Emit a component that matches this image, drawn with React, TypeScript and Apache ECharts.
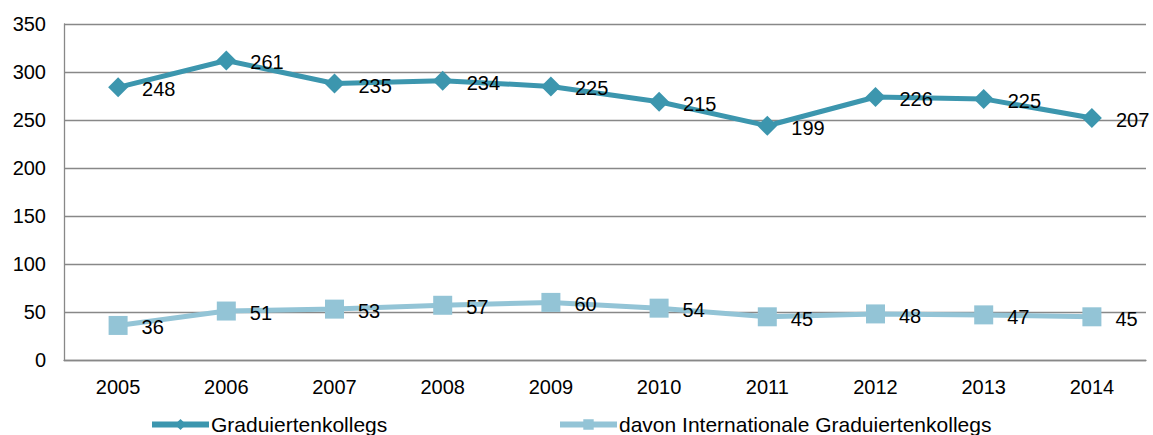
import React, { useEffect, useRef } from "react";
import * as echarts from "echarts";

const years = ["2005", "2006", "2007", "2008", "2009", "2010", "2011", "2012", "2013", "2014"];
const graduiertenkollegs = [248, 261, 235, 234, 225, 215, 199, 226, 225, 207];
const internationale = [36, 51, 53, 57, 60, 54, 45, 48, 47, 45];
const seriesNames = ["Graduiertenkollegs", "davon Internationale Graduiertenkollegs"];

const DARK = "#3C96AE";
const LIGHT = "#93C4D6";
const FONT = "'Liberation Sans', Arial, sans-serif";
const FS = 20;

export default function App() {
  const ref = useRef<HTMLDivElement>(null);
  useEffect(() => {
    if (!ref.current) return;
    const chart = echarts.init(ref.current, undefined, { renderer: "svg" });
    const labelCommon = {
      show: true,
      position: "right" as const,
      distance: 14,
      offset: [0, 2],
      color: "#000",
      fontSize: FS,
      fontFamily: FONT,
      formatter: "{c}",
    };
    const legendText = { fontSize: 21, fontFamily: FONT, color: "#000", padding: [0, 0, 0, -3] };
    chart.setOption({
      animation: false,
      backgroundColor: "#fff",
      grid: { left: 64, right: 7, top: 24, bottom: 75, containLabel: false },
      legend: [
        {
          data: [seriesNames[0]],
          left: 149,
          top: 414,
          padding: 0,
          itemWidth: 57,
          itemHeight: 14,
          lineStyle: { width: 6 },
          textStyle: legendText,
        },
        {
          data: [seriesNames[1]],
          left: 557,
          top: 414,
          padding: 0,
          itemWidth: 57,
          itemHeight: 13,
          lineStyle: { width: 6 },
          textStyle: legendText,
        },
      ],
      xAxis: {
        type: "category",
        data: years,
        boundaryGap: true,
        axisLine: { show: true, lineStyle: { color: "#888", width: 1.3 } },
        axisTick: { show: false },
        axisLabel: { color: "#000", fontSize: FS, fontFamily: FONT, margin: 17 },
      },
      yAxis: {
        type: "value",
        min: 0,
        max: 350,
        interval: 50,
        axisLine: { show: true, lineStyle: { color: "#888", width: 1.3 } },
        axisTick: { show: false },
        splitLine: { show: true, lineStyle: { color: "#888", width: 1.3 } },
        axisLabel: { color: "#000", fontSize: FS, fontFamily: FONT, margin: 18 },
      },
      series: [
        {
          name: seriesNames[1],
          type: "line",
          stack: "total",
          data: internationale,
          symbol: "rect",
          symbolSize: 19,
          lineStyle: { color: LIGHT, width: 5 },
          itemStyle: { color: LIGHT },
          label: labelCommon,
          z: 2,
        },
        {
          name: seriesNames[0],
          type: "line",
          stack: "total",
          data: graduiertenkollegs,
          symbol: "diamond",
          symbolSize: 20,
          lineStyle: { color: DARK, width: 5 },
          itemStyle: { color: DARK },
          label: labelCommon,
          z: 3,
        },
      ],
    });
    return () => chart.dispose();
  }, []);
  return (
    <div
      ref={ref}
      style={{ position: "fixed", left: 0, top: 0, width: 1153, height: 435 }}
    />
  );
}
